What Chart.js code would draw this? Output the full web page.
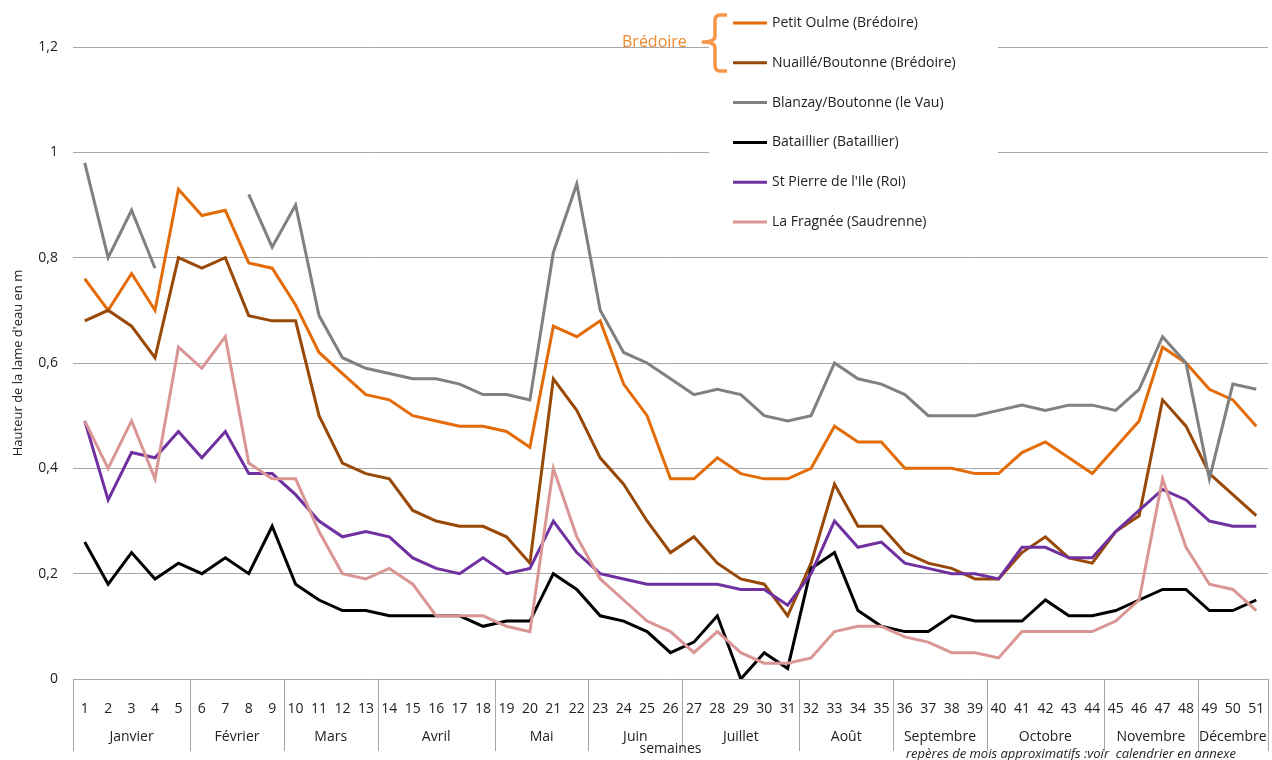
<!DOCTYPE html>
<html>
<head>
<meta charset="utf-8">
<script src="https://cdn.jsdelivr.net/npm/chart.js@4"></script>
<style>
  html, body { margin: 0; padding: 0; background: #fff; }
  #wrap { width: 1272px; height: 760px; position: relative; }
</style>
</head>
<body>
<div id="wrap"><canvas id="lameChart" width="1272" height="760"></canvas></div>
<script>
const weeks = [1,2,3,4,5,6,7,8,9,10,11,12,13,14,15,16,17,18,19,20,21,22,23,24,25,26,
  27,28,29,30,31,32,33,34,35,36,37,38,39,40,41,42,43,44,45,46,47,48,49,50,51]

const months = ['Janvier','Février','Mars','Avril','Mai','Juin','Juillet','Août','Septembre','Octobre','Novembre','Décembre']
const monthFirstWeek = [1,6,10,14,19,23,27,32,36,40,45,49]

const seriesNames = ['Petit Oulme (Brédoire)','Nuaillé/Boutonne (Brédoire)','Blanzay/Boutonne (le Vau)',
  'Bataillier (Bataillier)',"St Pierre de l'Ile (Roi)",'La Fragnée (Saudrenne)']

const petitOulme = [0.76,0.70,0.77,0.70,0.93,0.88,0.89,0.79,0.78,0.71,
  0.62,0.58,0.54,0.53,0.50,0.49,0.48,0.48,0.47,0.44,
  0.67,0.65,0.68,0.56,0.50,0.38,0.38,0.42,0.39,0.38,
  0.38,0.40,0.48,0.45,0.45,0.40,0.40,0.40,0.39,0.39,
  0.43,0.45,0.42,0.39,0.44,0.49,0.63,0.60,0.55,0.53,0.48]
const nuaille = [0.68,0.70,0.67,0.61,0.80,0.78,0.80,0.69,0.68,0.68,
  0.50,0.41,0.39,0.38,0.32,0.30,0.29,0.29,0.27,0.22,
  0.57,0.51,0.42,0.37,0.30,0.24,0.27,0.22,0.19,0.18,
  0.12,0.22,0.37,0.29,0.29,0.24,0.22,0.21,0.19,0.19,
  0.24,0.27,0.23,0.22,0.28,0.31,0.53,0.48,0.39,0.35,0.31]
const blanzay = [0.98,0.80,0.89,0.78,null,null,null,0.92,0.82,0.90,
  0.69,0.61,0.59,0.58,0.57,0.57,0.56,0.54,0.54,0.53,
  0.81,0.94,0.70,0.62,0.60,0.57,0.54,0.55,0.54,0.50,
  0.49,0.50,0.60,0.57,0.56,0.54,0.50,0.50,0.50,0.51,
  0.52,0.51,0.52,0.52,0.51,0.55,0.65,0.60,0.38,0.56,0.55]
const bataillier = [0.26,0.18,0.24,0.19,0.22,0.20,0.23,0.20,0.29,0.18,
  0.15,0.13,0.13,0.12,0.12,0.12,0.12,0.10,0.11,0.11,
  0.20,0.17,0.12,0.11,0.09,0.05,0.07,0.12,0.00,0.05,
  0.02,0.21,0.24,0.13,0.10,0.09,0.09,0.12,0.11,0.11,
  0.11,0.15,0.12,0.12,0.13,0.15,0.17,0.17,0.13,0.13,0.15]
const stPierre = [0.49,0.34,0.43,0.42,0.47,0.42,0.47,0.39,0.39,0.35,
  0.30,0.27,0.28,0.27,0.23,0.21,0.20,0.23,0.20,0.21,
  0.30,0.24,0.20,0.19,0.18,0.18,0.18,0.18,0.17,0.17,
  0.14,0.20,0.30,0.25,0.26,0.22,0.21,0.20,0.20,0.19,
  0.25,0.25,0.23,0.23,0.28,0.32,0.36,0.34,0.30,0.29,0.29]
const fragnee = [0.49,0.40,0.49,0.38,0.63,0.59,0.65,0.41,0.38,0.38,
  0.28,0.20,0.19,0.21,0.18,0.12,0.12,0.12,0.10,0.09,
  0.40,0.27,0.19,0.15,0.11,0.09,0.05,0.09,0.05,0.03,
  0.03,0.04,0.09,0.10,0.10,0.08,0.07,0.05,0.05,0.04,
  0.09,0.09,0.09,0.09,0.11,0.15,0.38,0.25,0.18,0.17,0.13]

const colors = ['#E36C09','#984807','#808080','#000000','#7030A0','#D99694']
const allSeries = [petitOulme, nuaille, blanzay, bataillier, stPierre, fragnee]

const FONT = '"Open Sans", sans-serif'
const gridColor = '#A6A6A6'

// month groups, legend box, brace and notes
const decorPlugin = {
  id: 'decor',
  afterDraw(chart) {
    const ctx = chart.ctx
    const x = chart.scales.x
    const area = chart.chartArea
    const step = x.getPixelForValue(1) - x.getPixelForValue(0)

    ctx.save()
    // separators
    ctx.strokeStyle = gridColor
    ctx.lineWidth = 1
    const edges = monthFirstWeek.map(w => x.getPixelForValue(w - 1) - step / 2)
    edges.push(area.right)
    edges.forEach(px => {
      const xx = Math.round(px) + 0.5
      ctx.beginPath()
      ctx.moveTo(xx, area.bottom)
      ctx.lineTo(xx, area.bottom + 72)
      ctx.stroke()
    })
    // month names
    ctx.fillStyle = '#222'
    ctx.font = '14px ' + FONT
    ctx.textAlign = 'center'
    ctx.textBaseline = 'middle'
    months.forEach((m, i) => {
      ctx.fillText(m, (edges[i] + edges[i + 1]) / 2, 737)
    })
    ctx.fillText('semaines', (area.left + area.right) / 2, 749)
    ctx.font = 'italic 13px ' + FONT
    ctx.fillText('repères de mois approximatifs :voir  calendrier en annexe', 1071, 754)

    // legend
    ctx.fillStyle = '#fff'
    ctx.fillRect(709, 0, 289, 245)
    ctx.textAlign = 'left'
    ctx.font = '14px ' + FONT
    seriesNames.forEach((name, i) => {
      const y = 23 + i * 39.8
      ctx.strokeStyle = colors[i]
      ctx.lineWidth = 3
      ctx.beginPath()
      ctx.moveTo(733, y)
      ctx.lineTo(767, y)
      ctx.stroke()
      ctx.fillStyle = '#222'
      ctx.fillText(name, 772, y)
    })

    // brace
    ctx.strokeStyle = '#F79646'
    ctx.lineWidth = 3.5
    ctx.lineJoin = 'round'
    ctx.beginPath()
    ctx.moveTo(727, 15)
    ctx.lineTo(720, 15)
    ctx.quadraticCurveTo(715, 15, 715, 21)
    ctx.lineTo(715, 36)
    ctx.quadraticCurveTo(715, 42, 703, 42)
    ctx.quadraticCurveTo(715, 42, 715, 48)
    ctx.lineTo(715, 65)
    ctx.quadraticCurveTo(715, 71, 720, 71)
    ctx.lineTo(727, 71)
    ctx.stroke()
    ctx.fillStyle = '#EE8A2E'
    ctx.font = '16px ' + FONT
    ctx.fillText('Brédoire', 622, 42)
    ctx.restore()
  }
}

const ctx = document.getElementById('lameChart')
new Chart(ctx, {
  type: 'line',
  data: {
    labels: weeks,
    datasets: allSeries.map((vals, i) => ({
      label: seriesNames[i],
      data: vals,
      borderColor: colors[i],
      backgroundColor: colors[i],
      borderWidth: 3,
      pointRadius: 0,
      tension: 0,
      fill: false,
      spanGaps: false,
      order: allSeries.length - i
    }))
  },
  options: {
    responsive: false,
    animation: false,
    layout: { padding: { top: 47, right: 4, left: 0, bottom: 0 } },
    plugins: {
      legend: { display: false },
      tooltip: { enabled: false }
    },
    scales: {
      x: {
        offset: true,
        grid: { display: false },
        border: { display: false },
        ticks: {
          color: '#222',
          font: { size: 14, family: FONT },
          padding: 14,
          maxRotation: 0,
          autoSkip: false
        },
        afterFit(scale) {
          scale.height = 81
          scale.paddingLeft = 0
          scale.paddingRight = 0
        }
      },
      y: {
        min: 0,
        max: 1.2,
        grid: { color: gridColor, drawTicks: false },
        border: { display: false },
        ticks: {
          stepSize: 0.2,
          padding: 15,
          color: '#222',
          font: { size: 14, family: FONT },
          callback: (v) => String(Math.round(v * 10) / 10).replace('.', ',')
        },
        title: {
          display: true,
          text: "Hauteur de la lame d'eau en m",
          color: '#222',
          font: { size: 13, family: FONT },
          padding: { top: 10, bottom: 0 }
        },
        afterFit(scale) { scale.width = 73 }
      }
    }
  },
  plugins: [decorPlugin]
})
</script>
</body>
</html>
